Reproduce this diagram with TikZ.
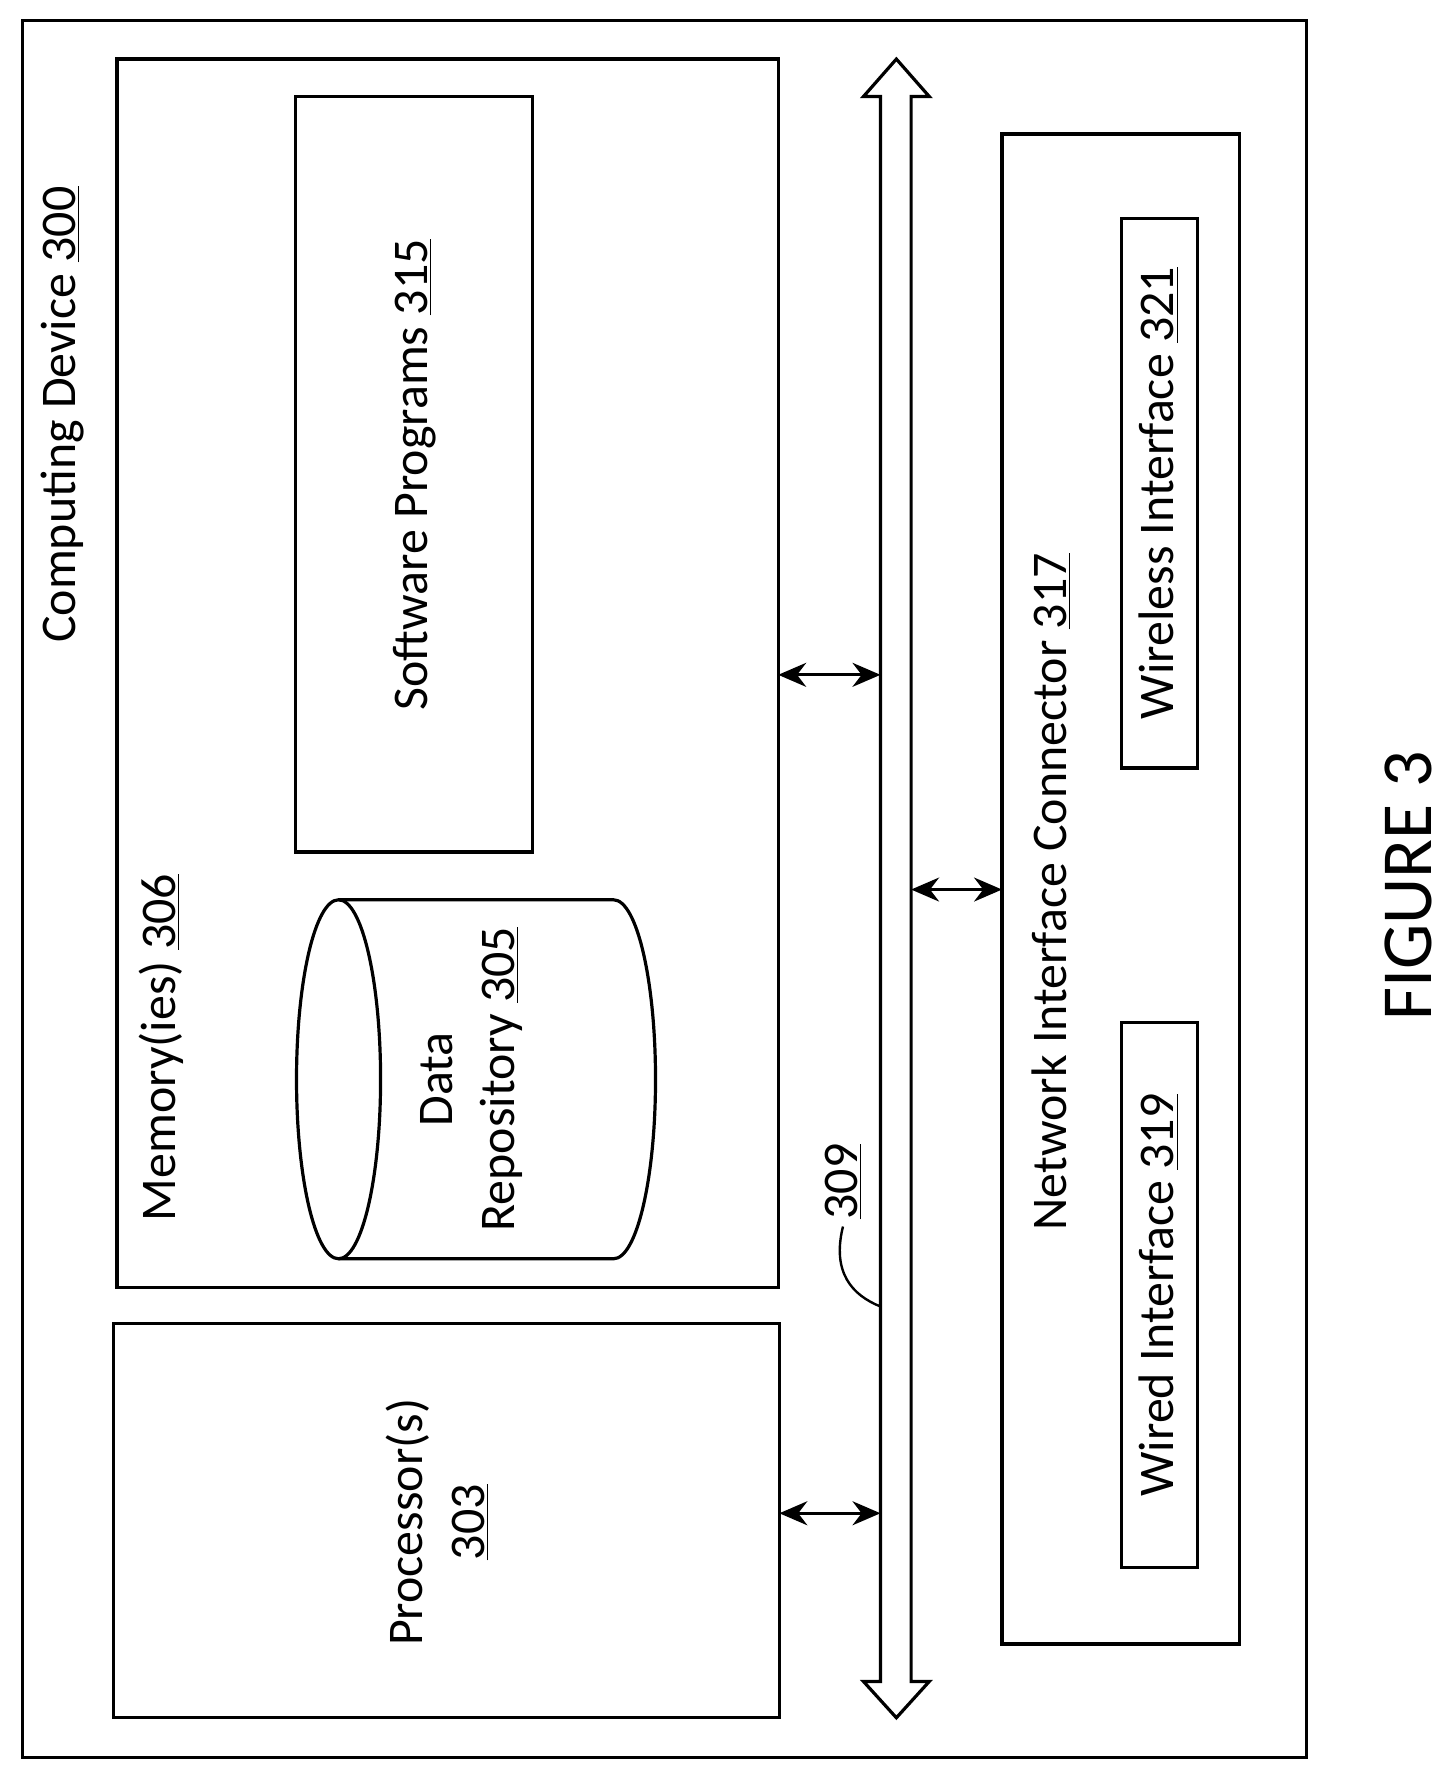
\documentclass[tikz,border=0pt]{standalone}
\usepackage{fontspec}
\setmainfont{Carlito}
\usetikzlibrary{arrows.meta,positioning}
\tikzset{
  box/.style={draw,line width=1.6pt,inner sep=0pt},
  lbl/.style={rotate=90,font=\fontsize{25}{31}\selectfont,align=center},
  link/.style={line width=1.6pt,{Stealth[length=14pt,width=12pt]}-{Stealth[length=14pt,width=12pt]}}
}
\begin{document}
\begin{tikzpicture}[x=0.02cm,y=-0.02cm]
  \useasboundingbox (0,0) rectangle (1280,1558);
  % boxes
  \draw[box] (20,18) rectangle (1150,1547);
  \draw[box] (103,52) rectangle (685,1133);
  \draw[box] (260,85) rectangle (469,750);
  \draw[box] (100,1165) rectangle (686,1512);
  \draw[box] (882,118) rectangle (1091,1447);
  \draw[box] (987,192) rectangle (1054,676);
  \draw[box] (987,900) rectangle (1054,1380);
  \coordinate (mem) at (685,594);
  \coordinate (proc) at (686,1332);
  \coordinate (net) at (882,783);
  \coordinate (busL1) at (775,594);
  \coordinate (busL2) at (775,1332);
  \coordinate (busR) at (802,783);
  % cylinder
  \draw[line width=1.6pt] (298,950) ellipse (37 and 158);
  \draw[line width=1.6pt] (298,792) -- (540,792) arc[start angle=-90,end angle=90,x radius=37,y radius=158] -- (298,1108);
  % bus
  \draw[line width=1.6pt] (775,1480) -- (775,85) -- (760,85) -- (789,52) -- (818,85) -- (802,85)
    -- (802,1480) -- (818,1480) -- (789,1512) -- (760,1480) -- cycle;
  \draw[link] (mem) -- (busL1);
  \draw[link] (proc) -- (busL2);
  \draw[link] (busR) -- (net);
  % labels
  \node[lbl] (dev) at (55,365) {Computing Device \underline{300}};
  \node[lbl] (memlbl) at (142,922) {Memory(ies) \underline{306}};
  \node[lbl] (sw) at (365,418) {Software Programs \underline{315}};
  \node[lbl] (repo) at (415,950) {Data\\Repository \underline{305}};
  \node[lbl] (cpu) at (385,1340) {Processor(s)\\\underline{303}};
  \node[lbl] (nic) at (925,785) {Network Interface Connector \underline{317}};
  \node[lbl] (wl) at (1020,434) {Wireless Interface \underline{321}};
  \node[lbl] (wd) at (1020,1140) {Wired Interface \underline{319}};
  \node[lbl] (bus) at (742,1040) {\underline{309}};
  \draw[line width=1.2pt] (775,1150) .. controls (750,1140) and (732,1120) .. (bus.west);
  \node[lbl,font=\fontsize{36}{42}\selectfont] (fig) at (1240,780) {FIGURE 3};
\end{tikzpicture}
\end{document}
